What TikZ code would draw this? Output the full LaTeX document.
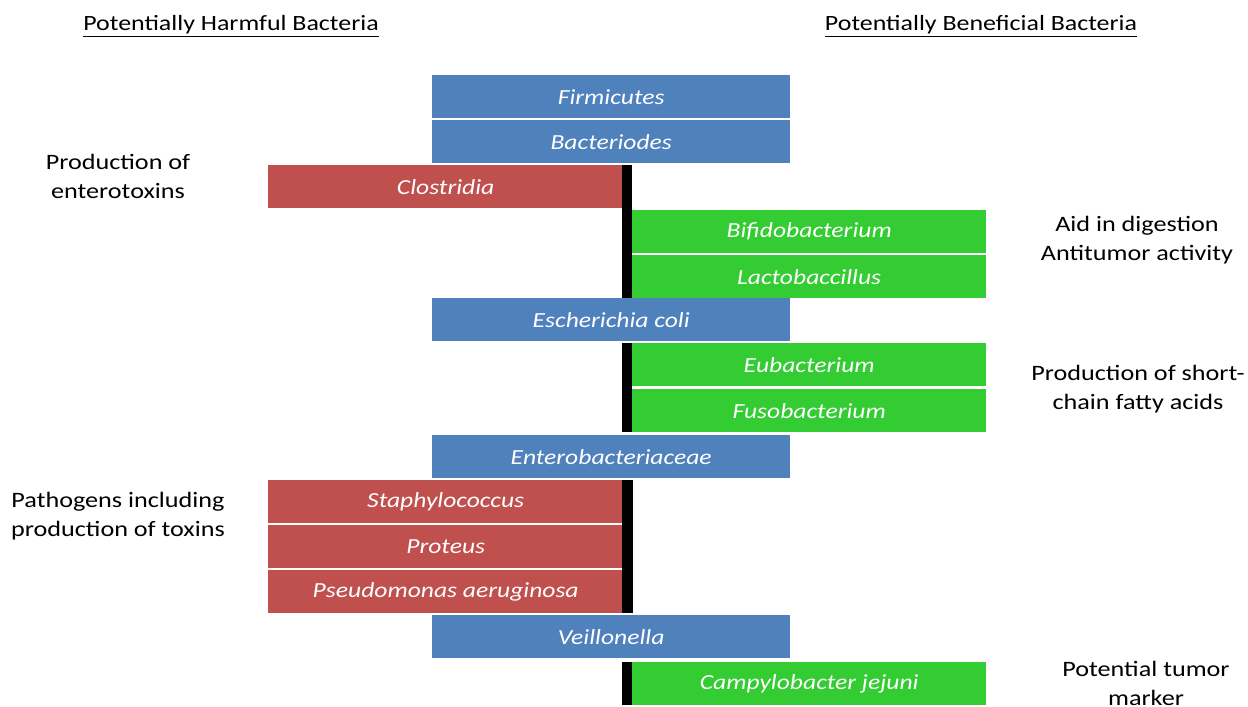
\documentclass[tikz,border=0pt]{standalone}
\usepackage{fontspec}
\setmainfont{Carlito}[FakeStretch=1.19]
\definecolor{bblue}{HTML}{4F81BD}
\definecolor{bred}{HTML}{C0504D}
\definecolor{bgreen}{HTML}{33CC33}
\tikzset{
  bact/.style={anchor=north west, minimum height=43pt, inner sep=0pt, text=white,
    font=\itshape\fontsize{21.5}{24}\selectfont},
  blu/.style={bact, fill=bblue, minimum width=358pt},
  red/.style={bact, fill=bred, minimum width=355pt},
  grn/.style={bact, fill=bgreen, minimum width=354pt},
  bar/.style={fill=black},
  side/.style={align=center, font=\fontsize{22}{29}\selectfont},
  head/.style={font=\fontsize{21.8}{24}\selectfont}
}
\begin{document}
\begin{tikzpicture}[x=1pt,y=-1pt]
\useasboundingbox (0,0) rectangle (1248,707);
\node[head] (hh) at (231,26) {\underline{Potentially Harmful Bacteria}};
\node[head] (hb) at (981,26) {\underline{Potentially Beneficial Bacteria}};
% boxes
\node[blu] (firm) at (432,75) {Firmicutes};
\node[blu] (bact) at (432,120) {Bacteriodes};
\node[red] (clos) at (268,165) {Clostridia};
\node[grn] (bifi) at (632,210) {Bifidobacterium};
\node[grn] (lact) at (632,255) {Lactobaccillus};
\node[blu] (ecol) at (432,298) {Escherichia coli};
\node[grn] (euba) at (632,343) {Eubacterium};
\node[grn] (fuso) at (632,389) {Fusobacterium};
\node[blu] (ente) at (432,435) {Enterobacteriaceae};
\node[red] (stap) at (268,480) {Staphylococcus};
\node[red] (prot) at (268,525) {Proteus};
\node[red] (pseu) at (268,570) {Pseudomonas aeruginosa};
\node[blu] (veil) at (432,615) {Veillonella};
\node[grn] (camp) at (632,662) {Campylobacter jejuni};
% black bars
\fill[bar] ([xshift=-1pt]clos.north east) rectangle (lact.south west);
\fill[bar] ([xshift=-10pt]euba.north west) rectangle (fuso.south west);
\fill[bar] ([xshift=-1pt]stap.north east) rectangle ([xshift=10pt]pseu.south east);
\fill[bar] ([xshift=-10pt]camp.north west) rectangle (camp.south west);
% side labels
\node[side] (l1) at (118,176) {Production of\\enterotoxins};
\node[side] (l2) at (1137,240) {Aid in digestion\\Antitumor activity};
\node[side] (l3) at (1138,389) {Production of short-\\chain fatty acids};
\node[side] (l4) at (118,516) {Pathogens including\\production of toxins};
\node[side] (l5) at (1146,683) {Potential tumor\\marker};
\end{tikzpicture}
\end{document}
